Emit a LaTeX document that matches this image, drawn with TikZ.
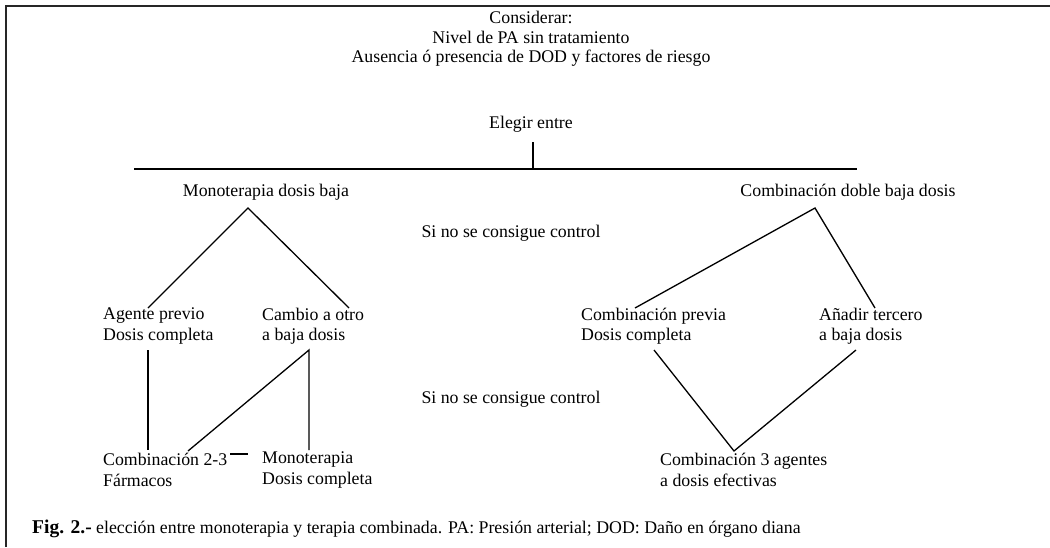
\documentclass[tikz,border=0pt]{standalone}
\usepackage{fontspec}
\setmainfont{Liberation Serif}
\usepackage{tikz}
\usetikzlibrary{positioning}
\tikzset{
x=1pt, y=-1pt, % one unit is one pixel of the page, y runs down
texto/.style={font=\fontsize{17.8}{19.5}\selectfont, inner sep=0pt, align=center}, % centred text
bloque/.style={texto, font=\fontsize{17.8}{20.5}\selectfont, align=left, anchor=west}, % two-line labels, left aligned
rama/.style={line width=1.3pt}, % thin lines of the tree
barra/.style={line width=2.4pt}, % the thick bar under Elegir entre
marco/.style={line width=2pt, draw=black!85}, % top and left edge of the frame
}

\begin{document}
\begin{tikzpicture}
        \useasboundingbox (0,0) rectangle (1050,547);
        \draw[marco] (6,547) -- (6,6) -- (1050,6);

        \node[texto] (considerar) at (531,39) {Considerar:\\Nivel de PA sin tratamiento\\Ausencia ó presencia de DOD y factores de riesgo};
        \node[texto] (elegir) at (531,124) {Elegir entre};

        \node[texto] (monobaja) at (266,192) {Monoterapia dosis baja};
        \node[texto] (doblebaja) at (848,192) {Combinación doble baja dosis};
        \node[texto] (sino1) at (511,233) {Si no se consigue control};
        \node[texto] (sino2) at (511,399) {Si no se consigue control};

        \node[bloque] (agente) at (103,326) {Agente previo\\Dosis completa};
        \node[bloque] (cambio) at (262,326) {Cambio a otro\\a baja dosis};
        \node[bloque] (previa) at (581,326) {Combinación previa\\Dosis completa};
        \node[bloque] (anadir) at (819,326) {Añadir tercero\\a baja dosis};

        \node[bloque] (comb23) at (103,470) {Combinación 2-3\\Fármacos};
        \node[bloque] (monocompleta) at (262,470) {Monoterapia\\Dosis completa};
        \node[bloque] (comb3) at (660,470) {Combinación 3 agentes\\a dosis efectivas};

        \node[anchor=west, inner sep=0pt] (pie) at (32,529) {\fontsize{19.5}{22}\selectfont\bfseries Fig. 2.-\fontsize{17.8}{20.5}\selectfont\mdseries{} elección entre monoterapia y terapia combinada. PA: Presión arterial; DOD: Daño en órgano diana};

        % points where the lines meet
        \coordinate (tope) at (533,142);
        \coordinate (cruce) at (533,169);
        \coordinate (ramaizq) at (134,169);
        \coordinate (ramader) at (857,169);
        \coordinate (vmono) at (248,208);
        \coordinate (vdoble) at (815,208);
        \coordinate (fagente) at (148,308);
        \coordinate (fcambio) at (349,308);
        \coordinate (fprevia) at (635,308);
        \coordinate (fanadir) at (875,308);
        \coordinate (sagente) at (148,350);
        \coordinate (scambio) at (309,350);
        \coordinate (sprevia) at (654,350);
        \coordinate (sanadir) at (856,350);
        \coordinate (llega23) at (148,450);
        \coordinate (diag23) at (188,451);
        \coordinate (llegamono) at (309,450);
        \coordinate (vcomb3) at (734,451);
        \coordinate (guion1) at (230,454);
        \coordinate (guion2) at (248,454);

        \draw[rama] (tope) -- (cruce);
        \draw[barra] (ramaizq) -- (ramader);

        \draw[rama] (fagente) -- (vmono) -- (fcambio);
        \draw[rama] (fprevia) -- (vdoble) -- (fanadir);

        \draw[rama] (sagente) -- (llega23);
        \draw[rama] (diag23) -- (scambio) -- (llegamono);
        \draw[rama] (guion1) -- (guion2);
        \draw[rama] (sprevia) -- (vcomb3) -- (sanadir);
\end{tikzpicture}
\end{document}
